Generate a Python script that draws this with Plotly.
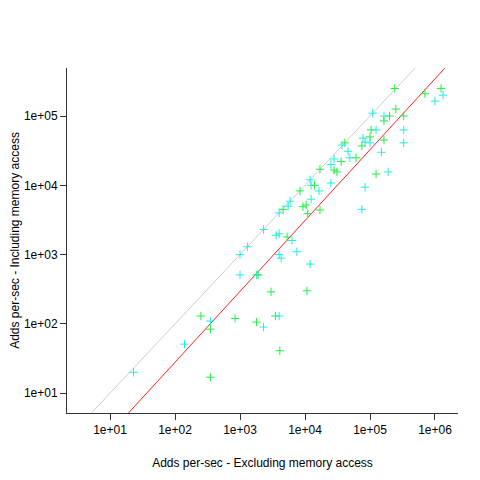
import plotly.graph_objects as go

x_vals = [2.3e3,1.3e3,1.0e3,1.0e3,1.8e3,2.5e2,3.5e2,3.5e2,8.4e2,1.8e3,2.3e3,1.4e2,23,3.5e2,
          2.4e5,7.0e5,1.24e6,1.33e6,1.0e6,1.1e5,2.5e5,1.64e5,2.0e5,3.3e5,1.64e5,1.04e5,1.24e5,3.3e5,
          7.8e4,1.0e5,1.64e5,8.4e4,7.5e4,1.0e5,3.3e5,1.5e5,4.1e4,3.7e4,4.6e4,2.8e4,3.6e4,4.9e4,6.1e4,
          2.5e4,2.8e4,3.1e4,1.7e4,1.24e5,1.9e5,1.2e4,1.24e4,1.4e4,2.5e4,1.64e4,8.4e3,8.4e4,5.9e3,5.5e3,
          4.6e3,4.0e3,1.04e4,9.3e3,1.24e4,1.1e4,1.7e4,7.5e4,3.6e3,4.0e3,5.3e3,6.3e3,4.0e3,4.3e3,7.5e3,
          1.2e4,1.9e3,3.0e3,1.07e4,3.5e3,4.0e3,4.1e3]
y_vals = [2.3e3,1.3e3,1.0e3,5.1e2,5.1e2,1.3e2,1.1e2,84,1.2e2,1.06e2,90,51,20,17,
          2.5e5,2.1e5,2.5e5,2.0e5,1.64e5,1.1e5,1.26e5,1.0e5,1.0e5,1.0e5,8.5e4,6.3e4,6.3e4,6.3e4,
          4.8e4,5.0e4,4.5e4,4.2e4,3.7e4,4.1e4,4.1e4,3.0e4,4.1e4,3.8e4,3.1e4,2.4e4,2.2e4,2.5e4,2.5e4,
          2.0e4,1.66e4,1.56e4,1.7e4,1.46e4,1.56e4,1.2e4,1.0e4,1.0e4,1.08e4,8.3e3,8.3e3,9.4e3,5.9e3,5.0e3,
          4.5e3,4.0e3,5.2e3,4.9e3,6.3e3,3.9e3,4.4e3,4.5e3,1.9e3,2.0e3,1.8e3,1.6e3,1.0e3,8.9e2,1.1e3,
          7.3e2,5.1e2,2.9e2,3.0e2,1.3e2,1.3e2,41]
groups = "cccccgcgggcccg" + "gggcccgcggggcccg" + "gcgcccgcccgcgcggg" + "gcccgccgcccgcggcgg" + "cccgcccccggggcgcg" + "ggcccccgcc"
group_colors = {"g": "#22ee44", "c": "#22eedd"}

ident_x = [1, 1e7]
ident_y = [1, 1e7]
fit_x = [10**1.28, 10**6.15]
fit_y = [10**0.71, 10**5.69]

cols = [group_colors[groups[i % len(groups)]] for i in range(len(x_vals))]

fig = go.Figure()
fig.add_trace(go.Scatter(x=ident_x, y=ident_y, mode="lines", line=dict(color="#cccccc", width=1)))
fig.add_trace(go.Scatter(x=fit_x, y=fit_y, mode="lines", line=dict(color="#ff2020", width=1)))
fig.add_trace(go.Scatter(x=x_vals, y=y_vals, mode="markers",
                         marker=dict(symbol="cross-thin", size=6, line=dict(width=1, color=cols), color=cols)))

font = dict(family="Liberation Sans", size=12, color="#000")
axis_common = dict(type="log", showgrid=False, zeroline=False, showline=True, linecolor="#333",
                   ticks="outside", ticklen=6, tickcolor="#333", automargin=False, tickfont=font)
fig.update_xaxes(range=[0.338, 6.354], tickvals=[1e1,1e2,1e3,1e4,1e5,1e6],
                 ticktext=["1e+01","1e+02","1e+03","1e+04","1e+05","1e+06"],
                 title=dict(text="Adds per-sec - Excluding memory access", standoff=22, font=font), **axis_common)
fig.update_yaxes(range=[0.714, 5.693], tickvals=[1e1,1e2,1e3,1e4,1e5],
                 ticktext=["1e+01","1e+02","1e+03","1e+04","1e+05"],
                 title=dict(text="Adds per-sec - Including memory access", standoff=4, font=font), **axis_common)
fig.update_layout(width=480, height=480, showlegend=False, plot_bgcolor="white", paper_bgcolor="white",
                  margin=dict(l=59, r=30, t=60, b=75))
fig.write_html("out.html")
